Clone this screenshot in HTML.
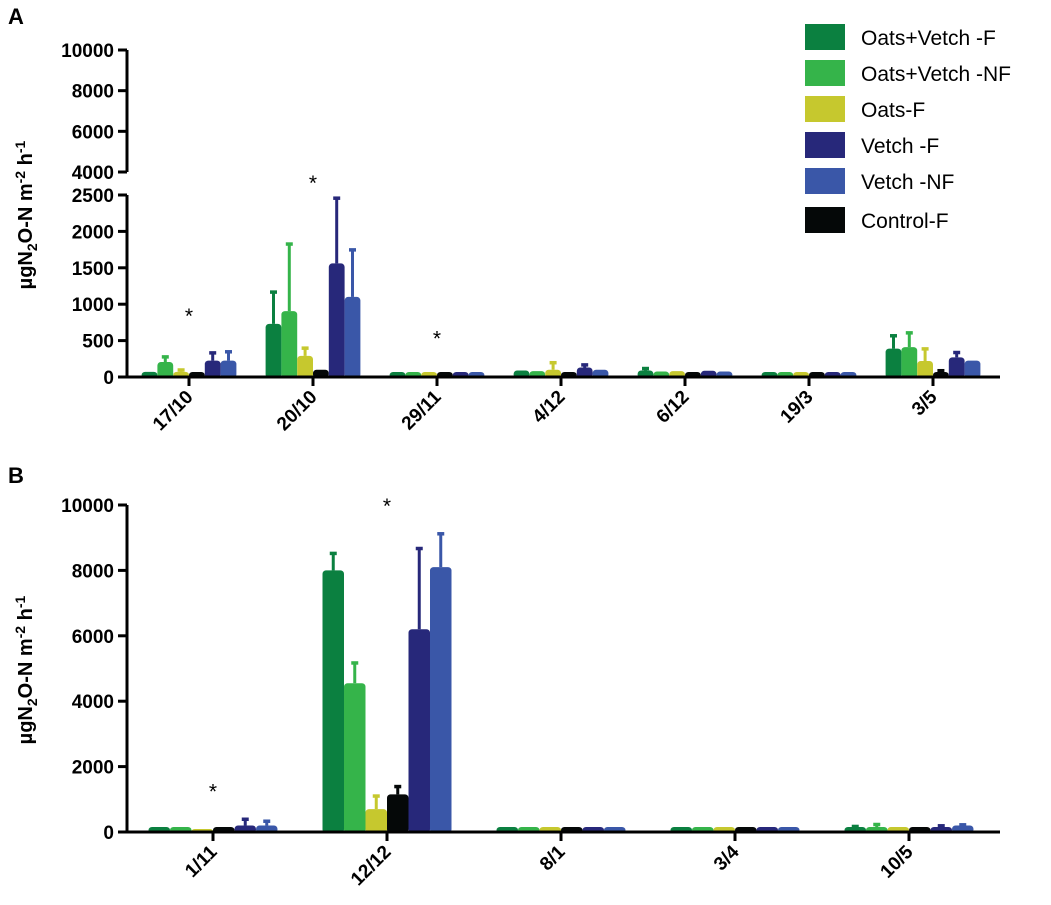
<!DOCTYPE html>
<html><head><meta charset="utf-8"><style>
body{margin:0;background:#fff;}
svg text{font-family:"Liberation Sans",Arial,sans-serif;}
</style></head><body>
<svg id="c" width="1051" height="900" xmlns="http://www.w3.org/2000/svg"></svg>
<script>
const seriesNames=["Oats+Vetch -F","Oats+Vetch -NF","Oats-F","Control-F","Vetch -F","Vetch -NF"];
const seriesColors=["#0b8040","#35b44a","#c6c82e","#050808","#27287a","#3a57a8"];
const catsA=["17/10","20/10","29/11","4/12","6/12","19/3","3/5"];
const valsA=[[70,730,40,90,90,15,390],[206,905,30,80,75,15,410],[70,290,15,100,80,10,220],[30,100,30,60,50,15,60],[225,1560,40,130,85,15,270],[225,1100,50,100,75,10,225]];
const errA=[[70,1180,40,90,130,15,580],[290,1840,30,80,75,15,620],[110,410,15,210,80,10,400],[30,100,30,60,50,15,100],[345,2470,40,180,85,15,350],[360,1760,50,100,75,10,225]];
const starsA=[0,1,2];
const catsB=["1/11","12/12","8/1","3/4","10/5"];
const valsB=[[50,8000,50,40,120],[50,4550,50,40,150],[0,700,30,30,100],[30,1150,40,40,80],[200,6200,40,40,150],[200,8100,50,50,200]];
const errB=[[50,8550,50,40,200],[50,5200,50,40,260],[0,1130,30,30,100],[30,1420,40,40,80],[420,8700,40,40,220],[360,9150,50,50,250]];
const starsB=[0,1];
const ticksAlow=[0,500,1000,1500,2000,2500];
const ticksAup=[4000,6000,8000,10000];
const ticksB=[0,2000,4000,6000,8000,10000];

const svg=document.getElementById('c');
const NS="http://www.w3.org/2000/svg";
function mk(t,a,p){const e=document.createElementNS(NS,t);for(const k in a)e.setAttribute(k,a[k]);(p||svg).appendChild(e);return e;}
const X0=127,X1=1000;
function yAlow(v){return 377-v*(182/2500);}
function yAup(v){return 172-(v-4000)*(122/6000);}
function yA(v){return v<=2500?yAlow(v):yAup(Math.max(v,4000));}
function yB(v){return 832-v*(327/10000);}
function xA(i){return 189+i*124;}
function xB(i){return 213+i*174;}

function bars(cats,vals,errs,xf,yf,bw,stars,y0,grp){
  const g=mk('g',{});
  
  
  for(let s=0;s<vals.length;s++){for(let i=0;i<cats.length;i++){
    const x=xf(i)+(s-3)*bw, v=vals[s][i], e=errs[s][i];
    const top=yf(v);
    if(e>v){const ey=yf(e);
      const l=mk('line',{x1:x+bw/2,x2:x+bw/2,y1:top,y2:ey,stroke:seriesColors[s],'stroke-width':3},g);
      
      
      const c=mk('line',{x1:x+bw/2-3.5,x2:x+bw/2+3.5,y1:ey+1,y2:ey+1,stroke:seriesColors[s],'stroke-width':3.5},g);
      
      }
    const h=Math.max(y0-top,v>0?5:3);
    const r=mk('rect',{x:x,y:y0-h,width:bw,height:h+1,fill:seriesColors[s],rx:3.5},g);
    
    
  }}
  stars.forEach(i=>{const t=mk('text',{x:xf(i),y:grp=='a'?(i==1?yA(2500)-5:yA(Math.max(...errs.map(e=>e[i])))-28):yf(Math.max(...errs.map(e=>e[i])))-20,'font-size':21,'text-anchor':'middle'});t.textContent='*';
    
    });
}
function xaxis(cats,xf,y,grp){
  mk('line',{x1:X0,x2:X1,y1:y,y2:y,stroke:'#000','stroke-width':3});
  cats.forEach((c,i)=>{const x=xf(i);
    mk('line',{x1:x,x2:x,y1:y,y2:y+9,stroke:'#000','stroke-width':3});
    const t=mk('text',{x:x+5,y:y+21,'font-size':19,'font-weight':'bold','text-anchor':'end',transform:`rotate(-45 ${x+5} ${y+21})`});
    t.textContent=c;
    
    });
}
function ytick(v,y){mk('line',{x1:X0-9,x2:X0,y1:y,y2:y,stroke:'#000','stroke-width':3});
  const t=mk('text',{x:X0-13,y:y+7,'font-size':19,'font-weight':'bold','text-anchor':'end'});t.textContent=v;
  
  }
function ytitle(cy){const t=mk('text',{x:0,y:0,'font-size':20,'font-weight':'bold','text-anchor':'middle',transform:`translate(32 ${cy}) rotate(-90)`});
  t.innerHTML='µgN<tspan font-size="14" dy="5">2</tspan><tspan dy="-5">O-N m</tspan><tspan font-size="14" dy="-7">-2</tspan><tspan dy="7"> h</tspan><tspan font-size="14" dy="-7">-1</tspan>';
  
  }

let p=mk('text',{x:8,y:24,'font-size':22,'font-weight':'bold'});p.textContent='A';


mk('line',{x1:X0,x2:X0,y1:yAup(10000),y2:yAup(4000),stroke:'#000','stroke-width':3});
mk('line',{x1:X0,x2:X0,y1:yAlow(2500),y2:377,stroke:'#000','stroke-width':3});
ticksAlow.forEach(v=>ytick(v,yAlow(v)));
ticksAup.forEach(v=>ytick(v,yAup(v)));
bars(catsA,valsA,errA,xA,yA,15.8,starsA,377,'a');
xaxis(catsA,xA,377,'a');
ytitle(215);

p=mk('text',{x:8,y:483,'font-size':22,'font-weight':'bold'});p.textContent='B';


mk('line',{x1:X0,x2:X0,y1:yB(10000),y2:832,stroke:'#000','stroke-width':3});
ticksB.forEach(v=>ytick(v,yB(v)));
bars(catsB,valsB,errB,xB,yB,21.5,starsB,832,'b');
xaxis(catsB,xB,832,'b');
ytitle(670);

const lg=mk('g',{});


const legOrder=[0,1,2,4,5,3];
const legY=[37,73,109,145,181,220];
legOrder.forEach((s,k)=>{
  const r=mk('rect',{x:805,y:legY[k]-13,width:40,height:26,fill:seriesColors[s]},lg);
  
  
  const t=mk('text',{x:861,y:legY[k]+8,'font-size':21},lg);t.textContent=seriesNames[s];
  
  
});
</script>
</body></html>
